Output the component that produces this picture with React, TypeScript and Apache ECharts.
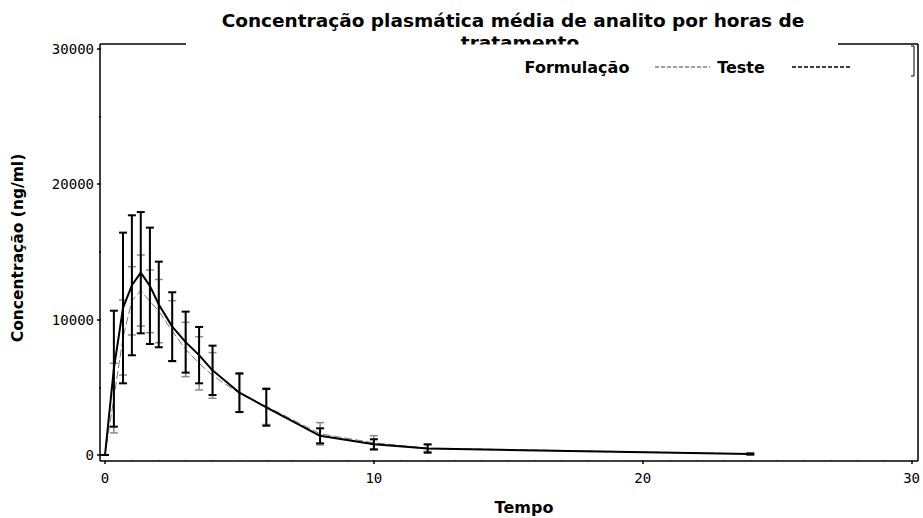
import React, { useEffect, useRef } from "react";
import * as echarts from "echarts";

const times = [0, 0.33, 0.67, 1, 1.33, 1.67, 2, 2.5, 3, 3.5, 4, 5, 6, 8, 10, 12, 24];
const testeMean = [0, 4200, 8670, 11380, 12140, 11340, 10620, 9140, 7790, 6770, 5870, 4550, 3600, 1565, 900, 510, 90];
const testeSd = [0, 2570, 2770, 2520, 2620, 2310, 2335, 2250, 2005, 1965, 1685, 1400, 1350, 825, 530, 250, 40];
const refMean = [0, 6370, 10850, 12525, 13455, 12485, 11110, 9475, 8330, 7370, 6250, 4600, 3515, 1415, 790, 480, 70];
const refSd = [0, 4280, 5560, 5165, 4475, 4295, 3160, 2535, 2250, 2080, 1820, 1430, 1355, 555, 370, 310, 45];
const xTickLabels = [0, 10, 20, 30];
const yTickLabels = [0, 10000, 20000, 30000];

const titleLine1 = "Concentração plasmática média de analito por horas de";
const titleLine2 = "tratamento";
const legendTitle = "Formulação";
const legendItem1 = "Teste";

const tickFont = "'DejaVu Sans Mono', monospace";
const boldFont = "'DejaVu Sans', sans-serif";

function errorBarRenderer(color: string, width: number) {
  return (params: any, api: any) => {
    const x = api.value(0);
    const m = api.value(1);
    const s = api.value(2);
    const top = api.coord([x, m + s]);
    const bot = api.coord([x, m - s]);
    const hw = 4;
    const style = { stroke: color, lineWidth: width };
    return {
      type: "group",
      children: [
        { type: "line", shape: { x1: top[0], y1: top[1], x2: bot[0], y2: bot[1] }, style },
        { type: "line", shape: { x1: top[0] - hw, y1: top[1], x2: top[0] + hw, y2: top[1] }, style },
        { type: "line", shape: { x1: bot[0] - hw, y1: bot[1], x2: bot[0] + hw, y2: bot[1] }, style },
      ],
    };
  };
}

export default function App() {
  const ref = useRef<HTMLDivElement>(null);
  useEffect(() => {
    if (!ref.current) return;
    const chart = echarts.init(ref.current, undefined, { renderer: "svg" });
    const testeLine = times.map((t, i) => [t, testeMean[i]]);
    const refLine = times.map((t, i) => [t, refMean[i]]);
    const testeErr = times.map((t, i) => [t, testeMean[i], testeSd[i]]);
    const refErr = times.map((t, i) => [t, refMean[i], refSd[i]]);
    const frame = { stroke: "#000", lineWidth: 1.5 };
    chart.setOption({
      animation: false,
      backgroundColor: "#fff",
      grid: { left: 105, right: 9, top: 48.5, bottom: 63, containLabel: false },
      xAxis: {
        type: "value",
        min: 0,
        max: 30,
        interval: 10,
        offset: 6,
        axisLine: { show: false },
        axisTick: { show: true, length: 9, lineStyle: { color: "#000", width: 1.5 } },
        minorTick: { show: true, splitNumber: 10, length: 6, lineStyle: { color: "#000", width: 1.5 } },
        splitLine: { show: false },
        axisLabel: {
          color: "#000",
          fontFamily: tickFont,
          fontSize: 14,
          margin: 10,
          formatter: (v: number) => (xTickLabels.includes(v) ? String(v) : ""),
        },
      },
      yAxis: {
        type: "value",
        min: 0,
        max: 30000,
        interval: 10000,
        offset: 5,
        axisLine: { show: false },
        axisTick: { show: true, length: 8, lineStyle: { color: "#000", width: 1.5 } },
        minorTick: { show: true, splitNumber: 2, length: 6, lineStyle: { color: "#000", width: 1.5 } },
        splitLine: { show: false },
        axisLabel: {
          color: "#000",
          fontFamily: tickFont,
          fontSize: 14,
          margin: 6,
          formatter: (v: number) => (yTickLabels.includes(v) ? String(v) : ""),
        },
      },
      graphic: [
        {
          type: "text",
          z: 1,
          style: { text: titleLine1, x: 513, y: 20, align: "center", verticalAlign: "middle", font: `bold 18.5px ${boldFont}`, fill: "#000" },
        },
        {
          type: "text",
          z: 1,
          style: { text: titleLine2, x: 520, y: 42, align: "center", verticalAlign: "middle", font: `bold 18.5px ${boldFont}`, fill: "#000" },
        },
        { type: "rect", z: 2, shape: { x: 101, y: 44.5, width: 816, height: 416 }, style: { fill: "#fff" } },
        { type: "line", z: 3, shape: { x1: 100, y1: 44, x2: 100, y2: 461 }, style: frame },
        { type: "line", z: 3, shape: { x1: 100, y1: 461, x2: 918, y2: 461 }, style: frame },
        { type: "line", z: 3, shape: { x1: 918, y1: 44, x2: 918, y2: 461 }, style: frame },
        { type: "line", z: 3, shape: { x1: 100, y1: 44, x2: 186, y2: 44 }, style: frame },
        { type: "line", z: 3, shape: { x1: 838, y1: 44, x2: 918, y2: 44 }, style: frame },
        { type: "polyline", z: 3, shape: { points: [[911, 46], [914, 46], [914, 76], [911, 76]] }, style: { stroke: "#000", lineWidth: 1, fill: null } },
        {
          type: "text",
          z: 3,
          style: { text: legendTitle, x: 577, y: 67, align: "center", verticalAlign: "middle", font: `bold 16px ${boldFont}`, fill: "#000" },
        },
        { type: "line", z: 3, shape: { x1: 655, y1: 67, x2: 710, y2: 67 }, style: { stroke: "#444", lineWidth: 1, lineDash: [4, 2] } },
        {
          type: "text",
          z: 3,
          style: { text: legendItem1, x: 741, y: 67, align: "center", verticalAlign: "middle", font: `bold 16px ${boldFont}`, fill: "#000" },
        },
        { type: "line", z: 3, shape: { x1: 792, y1: 67, x2: 850, y2: 67 }, style: { stroke: "#000", lineWidth: 1.5, lineDash: [4, 2] } },
        {
          type: "text",
          z: 3,
          rotation: Math.PI / 2,
          x: 18,
          y: 248,
          style: { text: "Concentração (ng/ml)", x: 0, y: 0, align: "center", verticalAlign: "middle", font: `bold 15.5px ${boldFont}`, fill: "#000" },
        },
        {
          type: "text",
          z: 3,
          style: { text: "Tempo", x: 524, y: 507, align: "center", verticalAlign: "middle", font: `bold 16px ${boldFont}`, fill: "#000" },
        },
      ],
      series: [
        {
          name: "Teste",
          type: "custom",
          z: 10,
          renderItem: errorBarRenderer("#8a8a8a", 1.5),
          data: testeErr,
          encode: { x: 0, y: [1, 2] },
        },
        {
          name: "Teste",
          type: "line",
          z: 11,
          data: testeLine,
          showSymbol: false,
          symbol: "none",
          lineStyle: { color: "#777", width: 1, type: [8, 3] },
        },
        {
          name: "Referência",
          type: "custom",
          z: 12,
          renderItem: errorBarRenderer("#000", 2),
          data: refErr,
          encode: { x: 0, y: [1, 2] },
        },
        {
          name: "Referência",
          type: "line",
          z: 13,
          data: refLine,
          showSymbol: false,
          symbol: "none",
          lineStyle: { color: "#000", width: 2 },
        },
      ],
    });
    return () => chart.dispose();
  }, []);
  return <div ref={ref} style={{ width: 923, height: 518, position: "absolute", left: 0, top: 0 }} />;
}
